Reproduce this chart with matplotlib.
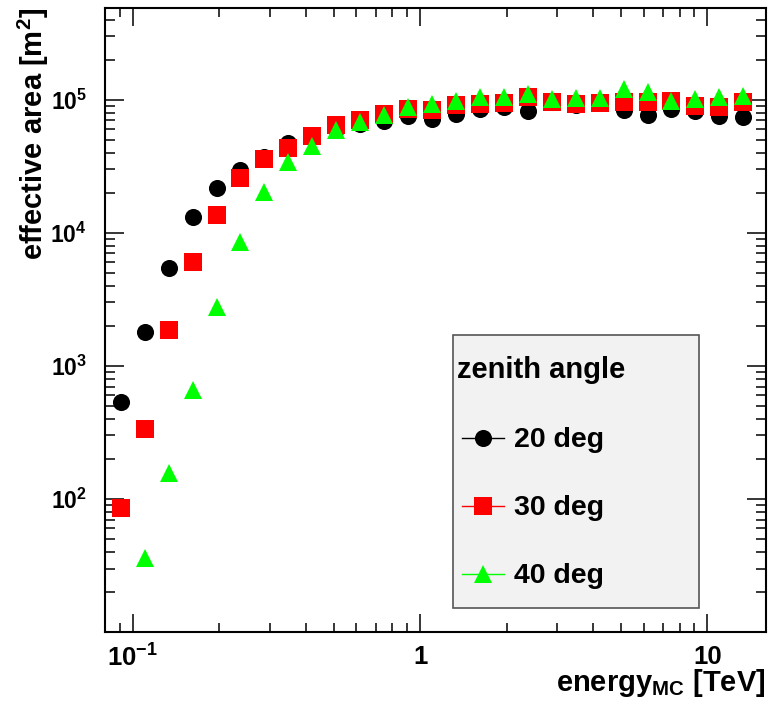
import numpy as np
import matplotlib
matplotlib.use("Agg")
import matplotlib.pyplot as plt
from matplotlib.lines import Line2D
from matplotlib.patches import Rectangle
from matplotlib.ticker import FixedLocator, FuncFormatter, LogLocator, NullFormatter

plt.rcParams['font.family'] = ['Liberation Sans', 'DejaVu Sans']
plt.rcParams['font.weight'] = 'bold'
plt.rcParams['mathtext.fontset'] = 'custom'
plt.rcParams['mathtext.rm'] = 'Liberation Sans:bold'
plt.rcParams['mathtext.bf'] = 'Liberation Sans:bold'
plt.rcParams['mathtext.it'] = 'Liberation Sans:bold'
plt.rcParams['mathtext.default'] = 'bf'

# ---- data ----
energy = [0.0909, 0.110, 0.1334, 0.1616, 0.1957, 0.237, 0.287, 0.348, 0.422,
          0.511, 0.619, 0.750, 0.909, 1.10, 1.33, 1.62, 1.96, 2.37, 2.87,
          3.48, 4.22, 5.11, 6.19, 7.50, 9.09, 11.0, 13.3]

area_20 = [535, 1800, 5460, 13200, 21800, 29800, 37300, 47500, 54000,
           60000, 65400, 68900, 75800, 72000, 78500, 85600, 87800, 82000, 95800,
           90900, 94100, 83400, 76500, 85600, 82000, 75100, 73900]

area_30 = [85.5, 336, 1870, 6050, 13650, 25900, 36000, 43600, 53500,
           64900, 70800, 78500, 85600, 84100, 90900, 92500, 94900, 105300, 95800,
           93300, 94100, 96600, 95800, 98300, 90100, 87800, 96600]

energy_40 = energy[1:]
area_40 = [36, 157, 660, 2780, 8550, 20300, 34200, 45100,
           59400, 68400, 77100, 88900, 92500, 97900, 104400, 105700, 110000, 100900,
           102600, 102600, 119900, 115300, 98600, 101400, 104400, 106800]

labels = ["20 deg", "30 deg", "40 deg"]
colors = ["#000000", "#ff0000", "#00ff00"]
markers = ["o", "s", "^"]
legend_title = "zenith angle"

x_ticks = [0.1, 1, 10]
x_tick_labels = [r"$10^{-1}$", "1", "10"]
y_ticks = [1e2, 1e3, 1e4, 1e5]
y_tick_labels = [r"$10^{2}$", r"$10^{3}$", r"$10^{4}$", r"$10^{5}$"]

# ---- figure ----
W, H = 773, 716
AX_L, AX_R, AX_T, AX_B = 105, 766, 8, 632
fig = plt.figure(figsize=(W / 100, H / 100), dpi=100)
ax = fig.add_axes([AX_L / W, (H - AX_B) / H, (AX_R - AX_L) / W, (AX_B - AX_T) / H])

def axx(px):
    return (px - AX_L) / (AX_R - AX_L)

def axy(py):
    return (AX_B - py) / (AX_B - AX_T)

series = [(energy, area_20), (energy, area_30), (energy_40, area_40)]
for (xs, ys), c, m in zip(series, colors, markers):
    ax.plot(xs, ys, linestyle='none', marker=m, color=c, markersize=12.3,
            markeredgewidth=0)

ax.set_xscale('log')
ax.set_yscale('log')
ax.set_xlim(0.08, 16)
ax.set_ylim(10, 4.9e5)

ax.xaxis.set_major_locator(FixedLocator(x_ticks))
ax.xaxis.set_major_formatter(FuncFormatter(lambda v, p: x_tick_labels[x_ticks.index(v)] if v in x_ticks else ""))
ax.xaxis.set_minor_locator(LogLocator(base=10, subs=np.arange(2, 10), numticks=20))
ax.xaxis.set_minor_formatter(NullFormatter())
ax.yaxis.set_major_locator(FixedLocator(y_ticks))
ax.set_yticklabels(y_tick_labels)
ax.yaxis.set_minor_locator(LogLocator(base=10, subs=np.arange(2, 10), numticks=20))
ax.yaxis.set_minor_formatter(NullFormatter())

for s in ax.spines.values():
    s.set_linewidth(1.5)
ax.tick_params(which='both', direction='in', top=True, right=True, width=1.1)
ax.tick_params(axis='x', which='major', length=13, labelsize=18.5, pad=9)
ax.tick_params(axis='x', which='minor', length=6.5)
ax.tick_params(axis='y', which='major', length=14, labelsize=16.5, pad=13)
ax.tick_params(axis='y', which='minor', length=7)

ax.set_ylabel(r"effective area [m$^{2}$]", fontsize=21, fontweight='bold', loc='top')
ax.yaxis.set_label_coords(axx(51), 1.0)
ax.set_xlabel(r"energy$_{\mathrm{MC}}$ [TeV]", fontsize=21, fontweight='bold', loc='right')
ax.xaxis.set_label_coords(1.0, axy(667))

# ---- legend box (ROOT style) ----
ax.add_patch(Rectangle((axx(452.5), axy(608)), axx(699) - axx(452.5), axy(335) - axy(608),
                       transform=ax.transAxes, facecolor='#f2f2f2', edgecolor='#555555',
                       linewidth=1.2, zorder=5))
ax.text(axx(457), axy(378), legend_title, transform=ax.transAxes, fontsize=21,
        fontweight='bold', ha='left', va='baseline', zorder=6)
row_baselines = [447, 515, 583]
for lab, c, m, yb in zip(labels, colors, markers, row_baselines):
    ym = yb - 9
    ax.add_line(Line2D([axx(462), axx(504)], [axy(ym), axy(ym)], transform=ax.transAxes,
                       color=c, linewidth=1.0, zorder=6))
    ax.add_line(Line2D([axx(483)], [axy(ym)], transform=ax.transAxes, linestyle='none',
                       marker=m, color=c, markersize=12.3, markeredgewidth=0, zorder=7))
    ax.text(axx(514), axy(yb), lab, transform=ax.transAxes, fontsize=20.5,
            fontweight='bold', ha='left', va='baseline', zorder=6)

fig.savefig("out.png", dpi=100)
